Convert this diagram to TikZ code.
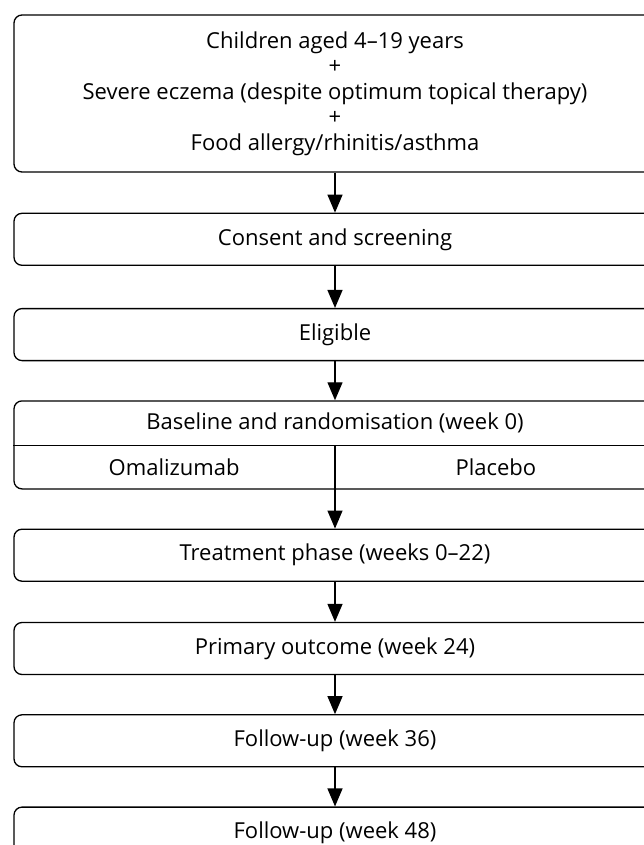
\documentclass[tikz,border=0pt]{standalone}
\usepackage{fontspec}
\setmainfont{Open Sans}
\usetikzlibrary{calc, positioning}
\usetikzlibrary{shapes.geometric, arrows.meta}
\tikzstyle{stage} = [rectangle, rounded corners=8pt, minimum width=642pt, minimum height=52pt, text centered, draw=black, line width=1.3pt, fill=white, font=\fontsize{22}{25.5}\selectfont]
\tikzstyle{lbl} = [inner sep=0pt, font=\fontsize{22}{25.5}\selectfont]
\tikzstyle{arrow} = [line width=1.3pt, -{Triangle[width=15pt,length=18pt]}]

\begin{document}
\begin{tikzpicture}[x=1pt, y=1pt]
			\useasboundingbox (0,0) rectangle (644,-845);
			\node (crit) [stage, minimum height=157pt, align=center] at (335,-93.5) {Children aged 4--19 years\\+\\Severe eczema (despite optimum topical therapy)\\+\\Food allergy/rhinitis/asthma};
			\node (consent) [stage, below=40pt of crit] {Consent and screening};
			\node (elig) [stage, below=42pt of consent] {Eligible};
			\node (base) [stage, minimum height=88pt, below=39pt of elig] {};
			\coordinate (split) at ($(base.north)!0.51!(base.south)$);
			\node (baselbl) [lbl] at ($(base.north)!0.255!(base.south)$) {Baseline and randomisation (week 0)};
			\node (omal) [lbl] at ($(base.south west)!0.5!(base.south)+(0,22)$) {Omalizumab};
			\node (plac) [lbl] at ($(base.south)!0.5!(base.south east)+(0,22)$) {Placebo};
			\node (treat) [stage, below=39pt of base] {Treatment phase (weeks 0--22)};
			\node (primary) [stage, below=40pt of treat] {Primary outcome (week 24)};
			\node (fu36) [stage, below=39pt of primary] {Follow-up (week 36)};
			\node (fu48) [stage, below=39pt of fu36] {Follow-up (week 48)};

			%arrows
			\draw [line width=1.3pt] (base.west |- split) -- (base.east |- split);
			\draw [arrow] (crit) -- (consent);
			\draw [arrow] (consent) -- (elig);
			\draw [arrow] (elig) -- (base);
			\draw [arrow] (split) -- (treat);
			\draw [arrow] (treat) -- (primary);
			\draw [arrow] (primary) -- (fu36);
			\draw [arrow] (fu36) -- (fu48);

		\end{tikzpicture}
\end{document}
